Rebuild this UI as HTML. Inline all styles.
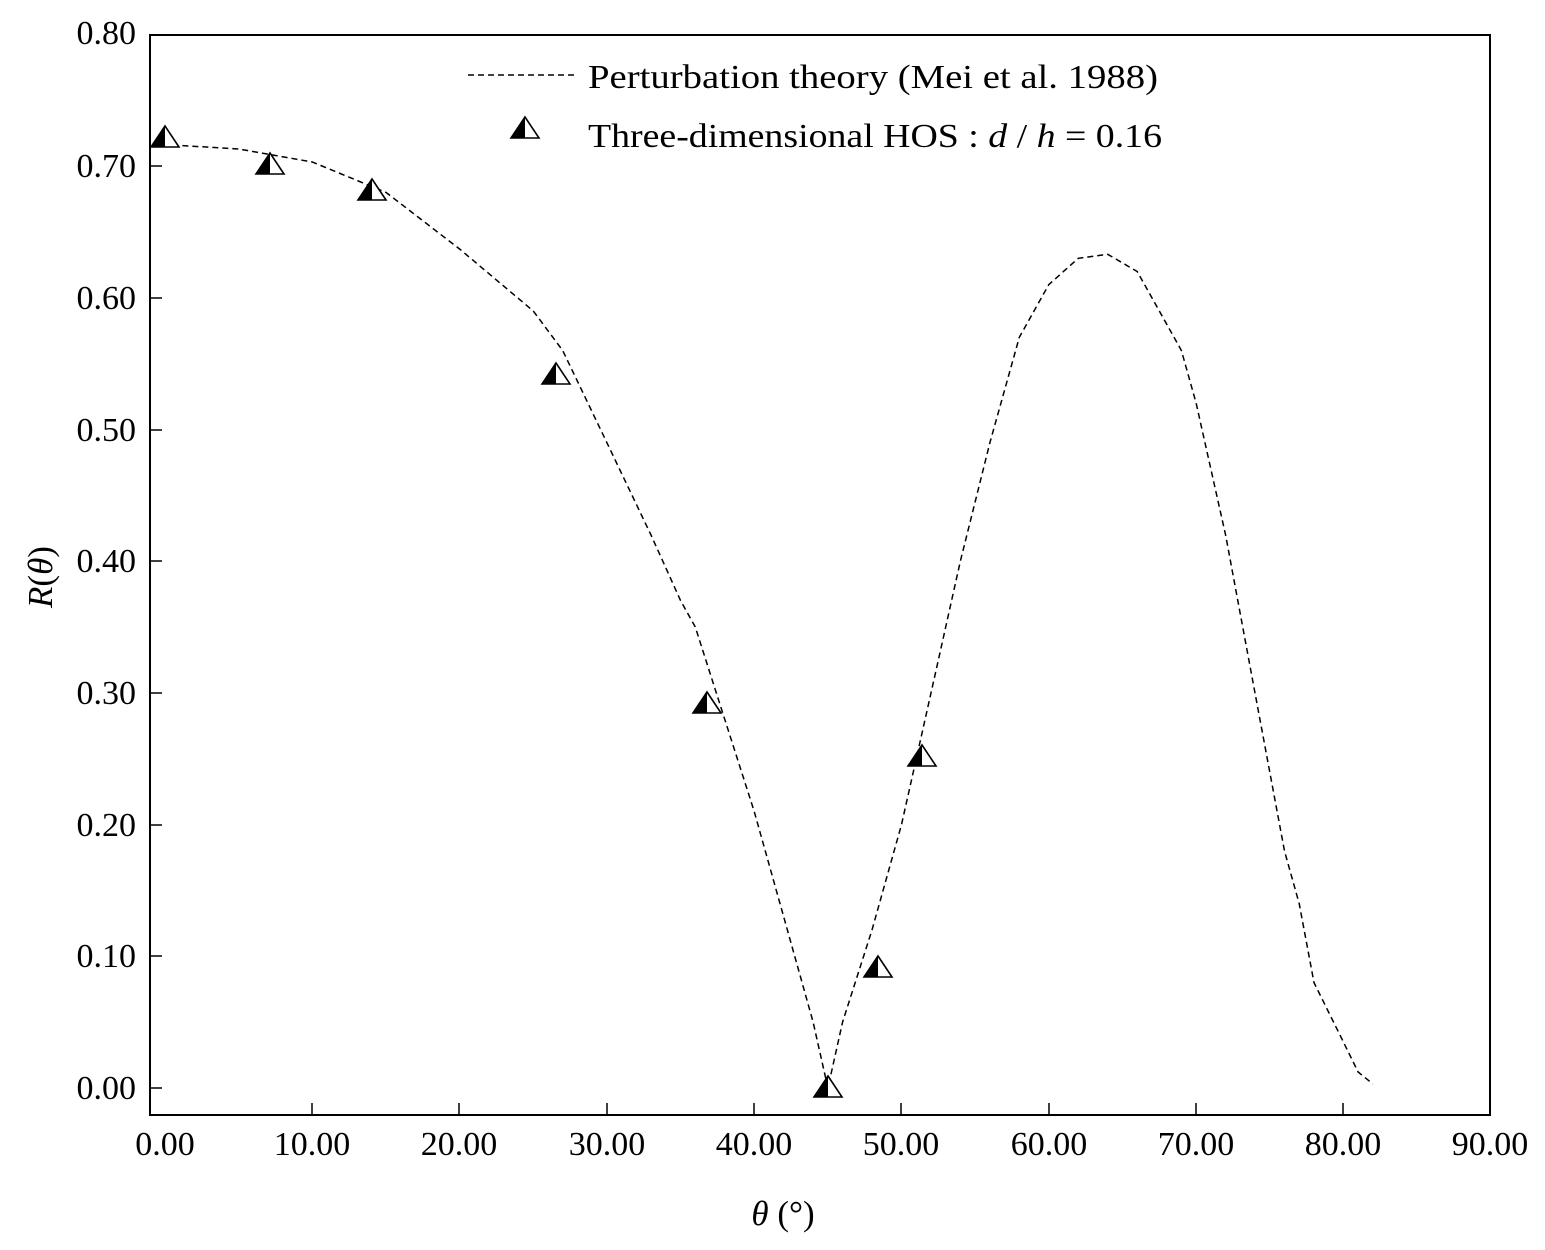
<!DOCTYPE html>
<html><head><style>body{margin:0;background:#fff}svg{display:block}</style></head><body>
<svg width="1545" height="1250" viewBox="0 0 1545 1250" xmlns="http://www.w3.org/2000/svg" font-family="Liberation Serif, serif" font-size="34">
<defs><g id="m"><polygon points="-14,7 0,-14 14,7" fill="#fff" stroke="#000" stroke-width="1.6"/><polygon points="-14,7 0,-14 0,7" fill="#000"/></g></defs>
<rect x="150" y="35" width="1340" height="1080" fill="none" stroke="#000" stroke-width="2"/>
<g stroke="#000" stroke-width="1.5">
<line x1="150" y1="166" x2="162" y2="166"/><line x1="150" y1="298" x2="162" y2="298"/><line x1="150" y1="430" x2="162" y2="430"/><line x1="150" y1="561" x2="162" y2="561"/><line x1="150" y1="693" x2="162" y2="693"/><line x1="150" y1="825" x2="162" y2="825"/><line x1="150" y1="956" x2="162" y2="956"/><line x1="150" y1="1088" x2="162" y2="1088"/>
<line x1="312" y1="1115" x2="312" y2="1103"/><line x1="459" y1="1115" x2="459" y2="1103"/><line x1="607" y1="1115" x2="607" y2="1103"/><line x1="754" y1="1115" x2="754" y2="1103"/><line x1="901" y1="1115" x2="901" y2="1103"/><line x1="1049" y1="1115" x2="1049" y2="1103"/><line x1="1196" y1="1115" x2="1196" y2="1103"/><line x1="1343" y1="1115" x2="1343" y2="1103"/>
</g>
<g text-anchor="end">
<text x="136" y="44">0.80</text><text x="136" y="177">0.70</text><text x="136" y="309">0.60</text><text x="136" y="441">0.50</text><text x="136" y="572">0.40</text><text x="136" y="704">0.30</text><text x="136" y="836">0.20</text><text x="136" y="967">0.10</text><text x="136" y="1099">0.00</text>
</g>
<g text-anchor="middle">
<text x="165" y="1155">0.00</text><text x="312" y="1155">10.00</text><text x="459" y="1155">20.00</text><text x="607" y="1155">30.00</text><text x="754" y="1155">40.00</text><text x="901" y="1155">50.00</text><text x="1049" y="1155">60.00</text><text x="1196" y="1155">70.00</text><text x="1343" y="1155">80.00</text><text x="1490" y="1155">90.00</text>
<text x="783" y="1225" font-size="35"><tspan font-style="italic">θ</tspan> (°)</text>
<text transform="translate(52,577) rotate(-90)" font-size="35"><tspan font-style="italic">R</tspan>(<tspan font-style="italic">θ</tspan>)</text>
</g>
<polyline fill="none" stroke="#000" stroke-width="1.5" stroke-dasharray="6,4" points="172.4,145 238.7,149 312.3,162 386,192.4 459.6,249 533.3,311 562.7,350.5 606.9,442.7 651,535 680.6,600.7 695.3,627 724.7,719.2 754.2,811.4 783.7,916.8 813.1,1022 827.9,1088 842.6,1022 872,930 901.5,824.6 931,693 960.4,561 989.9,442.7 1019.3,337.3 1048.8,284.6 1078.3,258.3 1107.7,254.3 1137.2,271.5 1166.6,324 1181.4,350.5 1196.1,403 1225.6,535 1255,693 1284.5,851 1299.2,903.6 1314,982.6 1343.4,1042 1358.1,1072 1372.9,1084"/>
<use href="#m" x="165" y="140"/><use href="#m" x="270" y="167"/><use href="#m" x="372" y="193"/><use href="#m" x="556" y="377"/><use href="#m" x="707" y="706"/><use href="#m" x="828" y="1090"/><use href="#m" x="878" y="970"/><use href="#m" x="922" y="759"/>
<line x1="468" y1="75" x2="578" y2="75" stroke="#000" stroke-width="1.5" stroke-dasharray="6,4"/>
<use href="#m" x="525" y="131"/>
<text x="588" y="88" textLength="570" lengthAdjust="spacingAndGlyphs">Perturbation theory (Mei et al. 1988)</text>
<text x="588" y="147" textLength="574" lengthAdjust="spacingAndGlyphs">Three-dimensional HOS : <tspan font-style="italic">d</tspan> / <tspan font-style="italic">h</tspan> = 0.16</text>
</svg>
</body></html>
